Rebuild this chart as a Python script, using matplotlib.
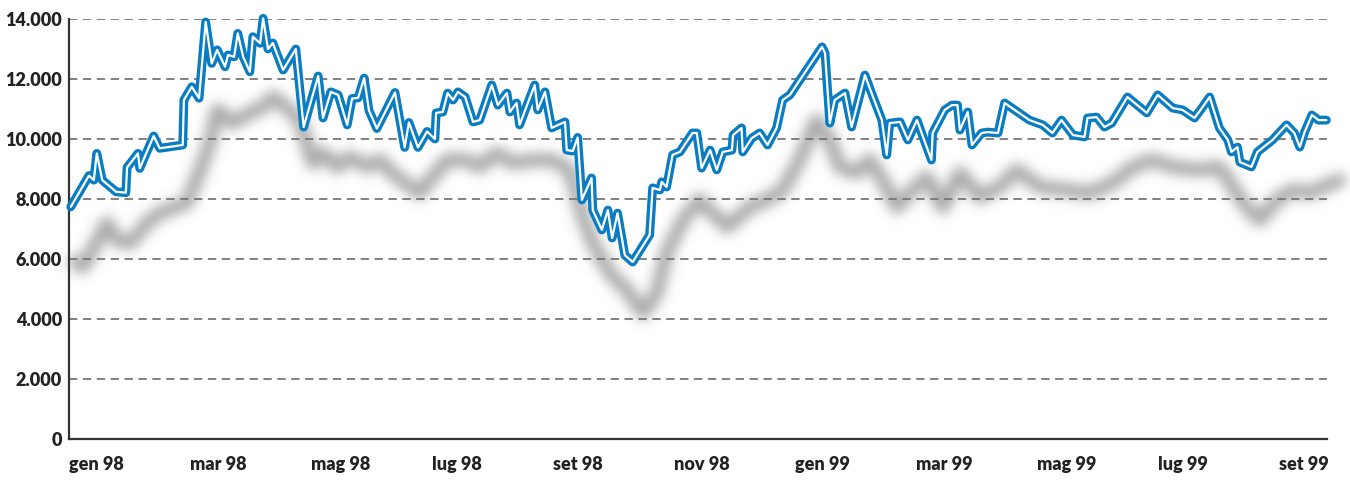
import numpy as np
import matplotlib
matplotlib.use('Agg')
import matplotlib.pyplot as plt

plt.rcParams['font.family'] = ['Lato', 'DejaVu Sans']
plt.rcParams['lines.scale_dashes'] = False

# Dati: mesi dal 1 gennaio 1998, valori dell'indice
mesi = [0.03, 0.33, 0.41, 0.46, 0.55, 0.78, 0.94, 0.96, 1.14, 1.17, 1.40, 1.50,
        1.88, 1.90, 2.03, 2.15, 2.26, 2.36, 2.45, 2.58, 2.63, 2.73, 2.79, 2.88,
        2.99, 3.04, 3.16, 3.21, 3.29, 3.37, 3.54, 3.75, 3.88, 4.12, 4.20, 4.33,
        4.45, 4.60, 4.68, 4.78, 4.88, 4.96, 5.09, 5.39, 5.55, 5.62, 5.77, 5.92,
        6.05, 6.07, 6.18, 6.26, 6.35, 6.43, 6.55, 6.68, 6.79, 6.99, 7.09, 7.24,
        7.29, 7.40, 7.45, 7.70, 7.75, 7.87, 7.98, 8.20, 8.23, 8.33, 8.41, 8.48,
        8.64, 8.66, 8.81, 8.91, 8.98, 9.07, 9.19, 9.32, 9.60, 9.65, 9.77, 9.80,
        9.88, 9.98, 10.10, 10.31, 10.38, 10.46, 10.60, 10.71, 10.81, 10.96, 10.98, 11.12,
        11.14, 11.29, 11.42, 11.55, 11.70, 11.80, 11.92, 12.45, 12.50, 12.58, 12.66, 12.83,
        12.94, 13.16, 13.27, 13.44, 13.52, 13.57, 13.74, 13.87, 14.02, 14.26, 14.28, 14.48,
        14.60, 14.69, 14.73, 14.86, 14.93, 15.09, 15.19, 15.36, 15.47, 15.88, 16.10, 16.26,
        16.41, 16.60, 16.79, 16.84, 16.99, 17.12, 17.24, 17.50, 17.82, 18.00, 18.25, 18.41,
        18.61, 18.73, 18.86, 19.02, 19.16, 19.22, 19.32, 19.36, 19.55, 19.65, 19.90, 20.13,
        20.26, 20.35, 20.43, 20.55, 20.66, 20.79]
indice = [7740, 8780, 8630, 9520, 8630, 8240, 8210, 9050, 9520, 9020, 10100, 9690,
          9800, 11300, 11740, 11360, 13900, 12520, 12970, 12410, 12800, 12740, 13520, 12740,
          12240, 13410, 13190, 14020, 13000, 13200, 12300, 13000, 10400, 12100, 10700, 11570,
          11470, 10470, 11350, 11370, 12030, 10950, 10350, 11550, 9720, 10550, 9720, 10250,
          10000, 10870, 10900, 11530, 11300, 11570, 11400, 10570, 10630, 11800, 11130, 11530,
          10900, 11200, 10470, 11800, 10970, 11570, 10370, 10570, 9630, 9600, 10050, 7970,
          8700, 7630, 6970, 7630, 6700, 7530, 6130, 5900, 6800, 8370, 8300, 8570,
          8400, 9470, 9570, 10200, 10200, 9030, 9630, 8970, 9570, 9630, 10130, 10370,
          9570, 10030, 10200, 9800, 10370, 11300, 11470, 13070, 12870, 10530, 11300, 11530,
          10400, 12130, 11530, 10630, 9470, 10530, 10570, 9970, 10630, 9300, 10200, 10970,
          11130, 11130, 10300, 10900, 9800, 10200, 10230, 10200, 11200, 10630, 10470, 10200,
          10630, 10130, 10070, 10700, 10730, 10400, 10530, 11400, 10870, 11470, 11030, 10970,
          10700, 11030, 11400, 10370, 9970, 9570, 9730, 9230, 9070, 9570, 9970, 10470,
          10200, 9730, 10230, 10800, 10630, 10630]

# serie di confronto (ombra grigia sfocata)
mesi_ombra = [0.10, 0.23, 0.63, 0.79, 1.01, 1.29, 1.50, 1.95, 2.17, 2.33, 2.45, 2.71,
              2.99, 3.21, 3.37, 3.65, 3.82, 4.03, 4.20, 4.43, 4.64, 4.93, 5.14, 5.42,
              5.80, 5.97, 6.25, 6.58, 6.79, 7.07, 7.34, 7.67, 8.00, 8.28, 8.50, 8.66,
              8.94, 9.22, 9.49, 9.72, 9.88, 10.15, 10.43, 10.71, 10.88, 11.26, 11.54, 11.80,
              12.08, 12.36, 12.58, 12.74, 13.02, 13.24, 13.45, 13.69, 13.95, 14.18, 14.45, 14.73,
              15.06, 15.39, 15.67, 16.05, 16.50, 16.88, 17.26, 17.59, 17.92, 18.25, 18.69, 19.02,
              19.24, 19.47, 19.69, 19.97, 20.23, 20.51, 20.73, 21.01]
ombra = [5900, 5730, 7200, 6630, 6530, 7200, 7530, 7870, 8970, 9870, 10970, 10530,
         10870, 11070, 11400, 10970, 10600, 9200, 9530, 9070, 9400, 9070, 9300, 8730,
         8200, 8630, 9300, 9300, 9070, 9530, 9200, 9300, 9300, 8970, 7400, 6530,
         5530, 4970, 4200, 4870, 6200, 7300, 7970, 7400, 7070, 7730, 7970, 8300,
         9300, 10630, 9970, 9070, 8870, 9300, 8630, 7730, 8300, 8730, 7730, 8870,
         8070, 8400, 8970, 8400, 8300, 8200, 8530, 9070, 9300, 9070, 8970, 9070,
         8400, 7730, 7300, 7970, 8300, 8200, 8400, 8630]

etichette_mesi = ['gen 98', 'mar 98', 'mag 98', 'lug 98', 'set 98', 'nov 98',
                  'gen 99', 'mar 99', 'mag 99', 'lug 99', 'set 99']
valori_y = [0, 2000, 4000, 6000, 8000, 10000, 12000, 14000]

pos = [69 / 1350, 45 / 484, 1258 / 1350, 420 / 484]
xmax = 20.8

# Ombra: disegno a parte, poi sfocatura gaussiana con numpy
fig_s = plt.figure(figsize=(13.5, 4.84), dpi=100)
ax_s = fig_s.add_axes(pos)
ax_s.set_xlim(0, xmax)
ax_s.set_ylim(0, 14000)
ax_s.axis('off')
ax_s.plot(mesi_ombra, ombra, color='k', lw=10, solid_capstyle='round',
          solid_joinstyle='round', clip_on=False)
fig_s.canvas.draw()
maschera = 1 - np.asarray(fig_s.canvas.buffer_rgba())[:, :, 0] / 255.0
plt.close(fig_s)

sigma = 6
k = np.arange(-20, 21)
kern = np.exp(-k**2 / (2 * sigma**2))
kern /= kern.sum()
maschera = np.apply_along_axis(lambda r: np.convolve(r, kern, mode='same'), 1, maschera)
maschera = np.apply_along_axis(lambda c: np.convolve(c, kern, mode='same'), 0, maschera)

img = np.zeros(maschera.shape + (4,))
img[:, :, :3] = 0.6
img[:, :, 3] = np.clip(maschera * 0.85, 0, 1)

# Grafico principale
fig = plt.figure(figsize=(13.5, 4.84), dpi=100)
fig.figimage(img, 0, 0, zorder=-1)
ax = fig.add_axes(pos)
ax.patch.set_alpha(0)

ax.set_xlim(0, xmax)
ax.set_ylim(0, 14000)

for v in valori_y[1:]:
    ax.axhline(v, color='#777777', lw=1.3, dashes=(6, 4), zorder=1)

ax.plot(mesi, indice, color='#0a7dc2', lw=6.4, solid_joinstyle='round',
        solid_capstyle='round', zorder=3, clip_on=False)
ax.plot(mesi, indice, color='white', lw=1.6, solid_joinstyle='round',
        solid_capstyle='round', zorder=4, clip_on=False)

ax.set_yticks(valori_y)
ax.set_yticklabels([f'{v:,}'.replace(',', '.') for v in valori_y])
ax.set_xticks(range(0, 21, 2))
ax.set_xticklabels(etichette_mesi, ha='left')
ax.tick_params(length=0, labelsize=13, colors='#222222')
ax.tick_params(axis='y', pad=5)
ax.tick_params(axis='x', pad=12)
for lab in ax.get_xticklabels() + ax.get_yticklabels():
    lab.set_fontweight('heavy')

for s in ['top', 'right']:
    ax.spines[s].set_visible(False)
for s in ['left', 'bottom']:
    ax.spines[s].set_color('#333333')
    ax.spines[s].set_linewidth(1.6)

fig.savefig('out.png', dpi=100)
